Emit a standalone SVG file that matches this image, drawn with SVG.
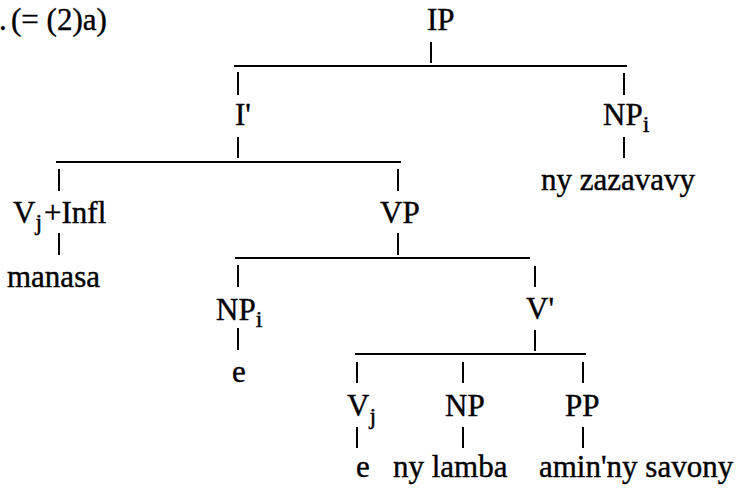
<svg xmlns="http://www.w3.org/2000/svg" width="745" height="497" viewBox="0 0 745 497">
  <style>
    text { font-family: "Liberation Serif", "Times New Roman", serif; font-size: 31px; fill: #000; stroke: #000; stroke-width: 0.4px; }
    .sub { font-size: 24px; }
    .edge { stroke: #000; stroke-width: 2; fill: none; }
  </style>
  <rect width="745" height="497" fill="#fff"/>

  <!-- example label -->
  <g id="label">
    <text x="-1" y="30">.</text>
    <text x="11" y="30">(= (2)a)</text>
  </g>

  <!-- branches -->
  <g id="connectors" class="edge">
    <path d="M431,42 V63"/>
    <path d="M234,66 H627"/>
    <path d="M238,72 V95"/>
    <path d="M624,73 V95"/>
    <path d="M238,137 V158"/>
    <path d="M624,137 V158"/>
    <path d="M56,162 H401"/>
    <path d="M59,169 V191"/>
    <path d="M398,169 V191"/>
    <path d="M59,233 V255"/>
    <path d="M398,233 V255"/>
    <path d="M235,258 H530"/>
    <path d="M238,265 V287"/>
    <path d="M535,266 V287"/>
    <path d="M238,328 V350"/>
    <path d="M535,330 V351"/>
    <path d="M355,354 H586"/>
    <path d="M357,362 V383"/>
    <path d="M463,362 V383"/>
    <path d="M583,362 V383"/>
    <path d="M357,427 V448"/>
    <path d="M463,427 V448"/>
    <path d="M583,427 V448"/>
  </g>

  <g id="node-IP"><text x="427" y="30">IP</text></g>
  <g id="node-Ibar"><text x="235" y="125">I'</text></g>
  <g id="node-NPi-subject"><text x="603" y="125">NP<tspan class="sub" dy="7">i</tspan></text></g>
  <g id="leaf-ny-zazavavy"><text x="541" y="190">ny zazavavy</text></g>
  <g id="node-Vj-Infl"><text x="13" y="223">V<tspan class="sub" dy="7">j</tspan><tspan dx="2" dy="-7">+Infl</tspan></text></g>
  <g id="leaf-manasa"><text x="7" y="287">manasa</text></g>
  <g id="node-VP"><text x="380" y="223">VP</text></g>
  <g id="node-NPi-trace"><text x="216" y="320">NP<tspan class="sub" dy="7">i</tspan></text></g>
  <g id="leaf-e-trace"><text x="232" y="382">e</text></g>
  <g id="node-Vbar"><text x="526" y="319">V'</text></g>
  <g id="node-Vj"><text x="347" y="416">V<tspan class="sub" dy="8">j</tspan></text></g>
  <g id="leaf-e-verb"><text x="356" y="477">e</text></g>
  <g id="node-NP"><text x="445" y="416">NP</text></g>
  <g id="leaf-ny-lamba"><text x="393" y="477">ny lamba</text></g>
  <g id="node-PP"><text x="565" y="416">PP</text></g>
  <g id="leaf-amin-ny-savony"><text x="539" y="477">amin'ny savony</text></g>
</svg>
